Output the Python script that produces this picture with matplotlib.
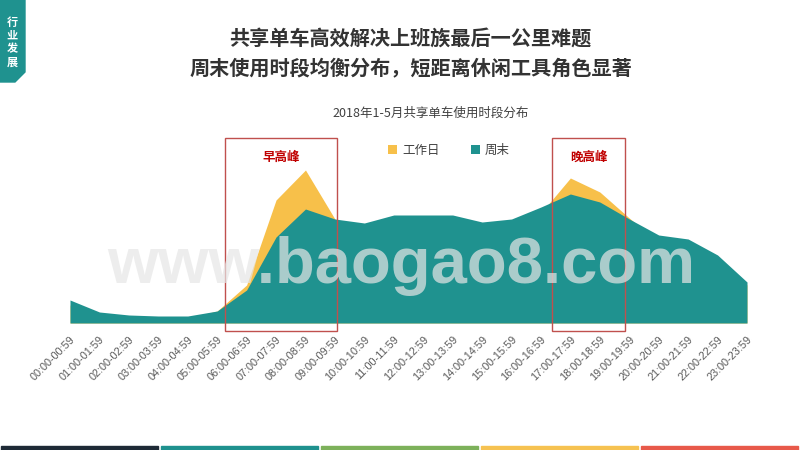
import numpy as np
import matplotlib
matplotlib.use('Agg')
from matplotlib import pyplot as plt
from matplotlib.patches import Rectangle, Polygon

plt.rcParams['font.family'] = ['Noto Sans CJK SC', 'DejaVu Sans']

hours = ['00:00-00:59', '01:00-01:59', '02:00-02:59', '03:00-03:59', '04:00-04:59', '05:00-05:59',
         '06:00-06:59', '07:00-07:59', '08:00-08:59', '09:00-09:59', '10:00-10:59', '11:00-11:59',
         '12:00-12:59', '13:00-13:59', '14:00-14:59', '15:00-15:59', '16:00-16:59', '17:00-17:59',
         '18:00-18:59', '19:00-19:59', '20:00-20:59', '21:00-21:59', '22:00-22:59', '23:00-23:59']
workday = [18, 8, 5, 4, 5, 12, 38, 123, 153, 104, 90, 95, 98, 96, 92, 95, 110, 145, 131, 105, 80, 75, 60, 38]
weekend = [23, 11, 8, 7, 7, 12, 33, 86, 114, 104, 100, 108, 108, 108, 101, 104, 116, 129, 121, 104, 88, 84, 68, 41]
legend_labels = ['工作日', '周末']
peak_labels = ['早高峰', '晚高峰']

teal = '#1f928f'
yellow = '#f7c04a'

fig = plt.figure(figsize=(8, 4.5), dpi=100)
ax = fig.add_axes([70 / 800, 1 - 323 / 450, (747 - 70) / 800, (323 - 138) / 450])
x = np.arange(len(hours))
ax.fill_between(x, workday, color=yellow, lw=0, label=legend_labels[0])
ax.fill_between(x, weekend, color=teal, lw=0, label=legend_labels[1])
ax.set_xlim(0, len(hours) - 1)
ax.set_ylim(0, 185)
ax.set_yticks([])
for s in ax.spines.values():
    s.set_visible(False)
ax.set_xticks(x)
ax.set_xticklabels(hours, rotation=45, ha='right', rotation_mode='anchor',
                   fontsize=7.8, color='#595959', family=['Liberation Sans', 'DejaVu Sans'])
ax.tick_params(axis='x', length=0, pad=8)

# peak boxes
for (x0, x1), lab in zip([(5.27, 9.07), (16.38, 18.86)], peak_labels):
    ax.add_patch(Rectangle((x0, -8), x1 - x0, 193, fill=False, ec='#c0504d', lw=1, clip_on=False))
    ax.text((x0 + x1) / 2, 166, lab, color='#c00000', fontsize=9, fontweight='bold',
            ha='center', va='center')

leg = ax.legend(loc='upper center', bbox_to_anchor=(0.56, 1.03), ncol=2, frameon=False,
                fontsize=9, handlelength=0.7, handleheight=0.7, columnspacing=2.5, handletextpad=0.4)
for t in leg.get_texts():
    t.set_color('#404040')

# watermark
fig.text(0.502, 1 - 266 / 450, 'www.baogao8.com', fontsize=47, fontweight='bold', color='#e6e6e6',
         alpha=0.7, ha='center', va='center', family=['Liberation Sans', 'DejaVu Sans'])

# titles
fig.text(0.513, 1 - 38 / 450, '共享单车高效解决上班族最后一公里难题', fontsize=14.5,
         fontweight='bold', color='#333333', ha='center', va='center')
fig.text(0.513, 1 - 68 / 450, '周末使用时段均衡分布，短距离休闲工具角色显著', fontsize=14.5,
         fontweight='bold', color='#333333', ha='center', va='center')
fig.text(0.538, 1 - 113 / 450, '2018年1-5月共享单车使用时段分布', fontsize=9,
         color='#404040', ha='center', va='center')

# left tag
tag = Polygon([(0, 1), (25 / 800, 1), (25 / 800, 1 - 72 / 450), (15 / 800, 1 - 82 / 450),
               (0, 1 - 82 / 450)], closed=True, color=teal, transform=fig.transFigure)
fig.patches.append(tag)
for i, ch in enumerate('行业发展'):
    fig.text(12 / 800, 1 - (22 + i * 13.5) / 450, ch, fontsize=8, fontweight='bold',
             color='white', ha='center', va='center')

# bottom color bar
bar_colors = ['#1e2a36', '#1f918e', '#7db15b', '#f6c251', '#e8594a']
for i, c in enumerate(bar_colors):
    fig.patches.append(Rectangle((i * 0.2 + 0.001, 0), 0.197, 4 / 450, color=c,
                                 transform=fig.transFigure))

fig.savefig('out.png', dpi=100)
